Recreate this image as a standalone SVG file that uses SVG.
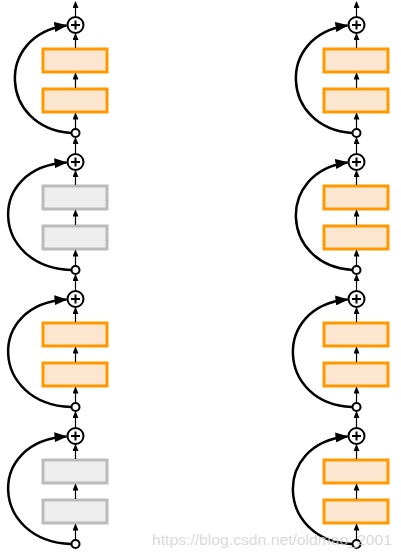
<svg xmlns="http://www.w3.org/2000/svg" width="401" height="557" viewBox="0 0 401 557">
<defs>
<marker id="sa" markerUnits="userSpaceOnUse" markerWidth="7" markerHeight="6" refX="6" refY="3" orient="auto"><path d="M0,0 L7,3 L0,6 z" fill="#000"/></marker>
<marker id="ba" markerUnits="userSpaceOnUse" markerWidth="13" markerHeight="10" refX="12" refY="5" orient="auto"><path d="M0,0 L13,5 L0,10 z" fill="#000"/></marker>
<g id="blk">
<line class="c" x1="0" y1="129" x2="0" y2="113.5"/>
<line class="c" x1="0" y1="88" x2="0" y2="73.5"/>
<line class="c" x1="0" y1="48" x2="0" y2="34"/>
<circle class="plus" cx="0" cy="25" r="8"/>
<line class="pl" x1="-4.5" y1="25" x2="4.5" y2="25"/>
<line class="pl" x1="0" y1="20.5" x2="0" y2="29.5"/>
<circle class="sm" cx="0" cy="133" r="4"/>
</g>
<path id="cvA" class="cv" d="M-4.5,133 C-76,128 -81,35 -9,25.5"/>
<path id="cvB" class="cv" d="M-4.5,133 C-85,130 -90,30 -9,25.5"/>
<path id="cvC" class="cv" d="M-4.5,133 C-80,130 -85,32 -9,25.5"/>
</defs>
<style>
.c{stroke:#000;stroke-width:1.2;fill:none;marker-end:url(#sa)}
.cv{stroke:#000;stroke-width:2.5;fill:none;marker-end:url(#ba)}
.plus{fill:#fff;stroke:#000;stroke-width:2}
.pl{stroke:#000;stroke-width:2}
.sm{fill:#fff;stroke:#000;stroke-width:2}
.o{fill:#fde6d0;stroke:#ff9900;stroke-width:3}
.g{fill:#eeeeee;stroke:#bbbbbb;stroke-width:3}
.wm{font-family:"Liberation Sans",Arial,sans-serif;font-size:15px;fill:#cfcfcf;fill-opacity:0.8}
</style>
<g id="connectors">
<line class="c" x1="75.5" y1="17" x2="75.5" y2="2"/>
<line class="c" x1="75.5" y1="154" x2="75.5" y2="138"/>
<line class="c" x1="75.5" y1="291" x2="75.5" y2="275"/>
<line class="c" x1="75.5" y1="428" x2="75.5" y2="412"/>
<line class="c" x1="356.5" y1="17" x2="356.5" y2="2"/>
<line class="c" x1="356.5" y1="154" x2="356.5" y2="138"/>
<line class="c" x1="356.5" y1="291" x2="356.5" y2="275"/>
<line class="c" x1="356.5" y1="428" x2="356.5" y2="412"/>
<use href="#cvA" x="75.5" y="0"/>
<use href="#cvB" x="75.5" y="137"/>
<use href="#cvB" x="75.5" y="274"/>
<use href="#cvB" x="75.5" y="411"/>
<use href="#cvA" x="356.5" y="0"/>
<use href="#cvA" x="356.5" y="137"/>
<use href="#cvC" x="356.5" y="274"/>
<use href="#cvC" x="356.5" y="411"/>
</g>
<g id="left1"><rect class="o" x="43" y="49" width="64" height="23"/><rect class="o" x="43" y="89" width="64" height="23"/><use href="#blk" x="75.5" y="0"/></g>
<g id="left2"><rect class="g" x="43" y="186" width="64" height="23"/><rect class="g" x="43" y="226" width="64" height="23"/><use href="#blk" x="75.5" y="137"/></g>
<g id="left3"><rect class="o" x="43" y="323" width="64" height="23"/><rect class="o" x="43" y="363" width="64" height="23"/><use href="#blk" x="75.5" y="274"/></g>
<g id="left4"><rect class="g" x="43" y="460" width="64" height="23"/><rect class="g" x="43" y="500" width="64" height="23"/><use href="#blk" x="75.5" y="411"/></g>
<g id="right1"><rect class="o" x="324" y="49" width="64" height="23"/><rect class="o" x="324" y="89" width="64" height="23"/><use href="#blk" x="356.5" y="0"/></g>
<g id="right2"><rect class="o" x="324" y="186" width="64" height="23"/><rect class="o" x="324" y="226" width="64" height="23"/><use href="#blk" x="356.5" y="137"/></g>
<g id="right3"><rect class="o" x="324" y="323" width="64" height="23"/><rect class="o" x="324" y="363" width="64" height="23"/><use href="#blk" x="356.5" y="274"/></g>
<g id="right4"><rect class="o" x="324" y="460" width="64" height="23"/><rect class="o" x="324" y="500" width="64" height="23"/><use href="#blk" x="356.5" y="411"/></g>
<text class="wm" x="152" y="545" textLength="240" lengthAdjust="spacingAndGlyphs">https://blog.csdn.net/oldmao_2001</text>
</svg>
